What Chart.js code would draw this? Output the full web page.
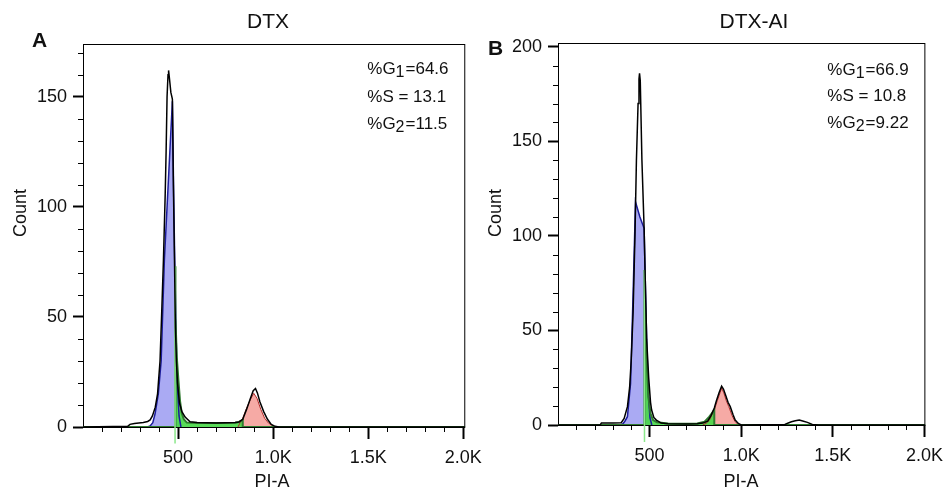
<!DOCTYPE html>
<html>
<head>
<meta charset="utf-8">
<title>DTX / DTX-AI cell cycle</title>
<script src="https://cdn.jsdelivr.net/npm/chart.js@4.4.1/dist/chart.umd.min.js"></script>
<style>
  html, body { margin: 0; padding: 0; background: #fff; overflow: hidden; }
  #wrap { position: relative; width: 951px; height: 493px; }
  canvas { position: absolute; top: 0; }
  #chartA { left: 0; width: 490px; height: 493px; }
  #chartB { left: 475px; width: 476px; height: 493px; }
</style>
</head>
<body>
<div id="wrap">
  <canvas id="chartA" width="490" height="493"></canvas>
  <canvas id="chartB" width="476" height="493"></canvas>
</div>
<script>
// ---- data: [PI-A, count] ----

// panel A (DTX)
const dtxTotal = [[0,0],[235,0.3],[247,1.2],[270,1.6],[317,2],[340,2.5],[353,3.2],[365,5],[380,9],[392,15],[405,30],[415,55],[423,76],[432,105],[437,125],[442,150],[447,160],[450,162],[455,158],[462,152],[470,149],[475,112],[481,76],[486,45],[491,30],[497,20],[507,11],[520,7],[537,4.5],[563,2.4],[600,2],[700,1.8],[800,2],[820,2.3],[840,3.5],[860,8],[880,13],[895,16.5],[907,17.5],[917,15.5],[930,11.5],[950,7],[970,3.5],[990,1.2],[1010,0.3],[1030,0],[2010,0]];
const dtxG1 = [[340,0],[353,0.5],[367,2],[379,6],[396,15],[411,30],[428,76],[449,112],[470,148],[476,110],[483,72],[490,40],[497,18],[505,5],[515,0]];
const dtxS = [[0,0],[484,0],[484,73],[488,50],[493,32],[502,21],[510,12],[519,6.4],[530,3.5],[546,2],[600,1.8],[700,1.8],[800,1.9],[820,2.3],[840,3.2],[840,0],[2010,0]];
const dtxG2 = [[815,0],[825,1.8],[840,4],[860,8.5],[880,12.5],[898,15.3],[915,13],[935,8],[955,4],[975,1.8],[1000,0.5],[1015,0]];
const dtxGate = [[484,-7.5],[484,73]];
const dtxStats = ['64.6', '13.1', '11.5'];

// panel B (DTX-AI)
const aiTotal = [[0,0],[230,0],[237,1.1],[300,1.1],[345,1.2],[361,3.5],[379,9.7],[391,20],[400,35],[410,60],[420,100],[428,140],[437,170],[442,183],[445,186],[449,182],[458,140],[470,104],[475,82],[484,45],[495,25],[505,12],[511,7.9],[523,4],[537,2.6],[563,1],[600,0.6],[700,0.5],[760,0.6],[790,1],[817,2],[835,5],[853,9],[865,13],[879,17],[893,20.5],[903,19],[914,16],[928,12],[940,9.7],[955,5.5],[967,2.6],[984,0.8],[1000,0],[1238,0.3],[1260,1.2],[1274,1.7],[1295,2.2],[1317,2.6],[1340,2],[1361,1.4],[1388,0.3],[1420,0],[2005,0]];
const aiG1 = [[340,0],[353,0.5],[365,2],[379,4.4],[396,22],[410,70],[423,118],[447,110],[470,104],[475,82],[484,45],[493,17],[502,3.7],[512,0]];
const aiS = [[0,0],[472,0],[472,82],[475,63],[484,35],[493,15],[505,6],[519,2.6],[540,1.5],[600,0.8],[700,0.6],[760,0.8],[800,1.8],[826,4.4],[853,7.9],[853,0],[2005,0]];
const aiG2 = [[790,0],[810,1],[826,2.5],[853,7.9],[870,13],[893,19.5],[905,17],[918,13],[932,9.7],[950,5],[965,2],[980,0.5],[990,0]];
const aiGate = [[472,-9],[472,82]];
const aiStats = ['66.9', '10.8', '9.22'];

// axes
const xTicks = [500, 1000, 1500, 2000];
const xTickLabels = ['500', '1.0K', '1.5K', '2.0K'];
const yTicksA = [0, 50, 100, 150];
const yTicksB = [0, 50, 100, 150, 200];

const FONT = '"Liberation Sans", Arial, sans-serif';

function pts(arr) {
  return arr.map(([x, y]) => ({ x, y }));
}

function buildDatasets(total, g1, s, g2, gate) {
  return [
    { label: 'Total', data: pts(total), borderColor: '#000', borderWidth: 1.5, fill: false, order: 0 },
    { label: 'S', data: pts(s), borderColor: '#2f7a2f', borderWidth: 2, backgroundColor: 'rgba(70,215,70,0.9)', fill: 'origin', order: 1 },
    { label: 'Gate', data: pts(gate), borderColor: '#8be88b', borderWidth: 1.5, fill: false, clip: false, order: 0 },
    { label: 'G2', data: pts(g2), borderColor: '#b02a2a', borderWidth: 1, backgroundColor: '#f6aaa5', fill: 'origin', order: 2 },
    { label: 'G1', data: pts(g1), borderColor: '#1c1c9c', borderWidth: 1.5, backgroundColor: '#aaaaf3', fill: 'origin', order: 3 }
  ];
}

// frame, minor ticks and the panel texts
const decor = {
  id: 'decor',
  beforeDatasetsDraw(chart, args, o) {
    const { ctx, chartArea: a, scales: { x, y } } = chart;
    ctx.save();
    ctx.strokeStyle = '#000';
    ctx.lineWidth = 1;
    ctx.strokeRect(a.left + 0.5, a.top + 0.5, a.right - a.left - 1, a.bottom - a.top);
    ctx.beginPath();
    for (let v = 100; v < x.max; v += 100) {
      if (v % 500 === 0) continue;
      const px = Math.round(x.getPixelForValue(v)) + 0.5;
      ctx.moveTo(px, a.bottom);
      ctx.lineTo(px, a.bottom + 5);
    }
    for (let v = 10; v < y.max; v += 10) {
      if (v % 50 === 0) continue;
      const py = Math.round(y.getPixelForValue(v)) + 0.5;
      ctx.moveTo(a.left - 5, py);
      ctx.lineTo(a.left, py);
    }
    ctx.stroke();
    ctx.restore();
  },
  afterDraw(chart, args, o) {
    const ctx = chart.ctx;
    ctx.save();
    ctx.fillStyle = '#111';

    ctx.font = 'bold 21px ' + FONT;
    ctx.textAlign = 'left';
    ctx.textBaseline = 'alphabetic';
    ctx.fillText(o.panel, o.panelX, o.panelY);

    ctx.font = '21px ' + FONT;
    ctx.textAlign = 'center';
    ctx.fillText(o.title, o.titleX, 28);

    ctx.font = '18px ' + FONT;
    ctx.fillText('PI-A', o.xTitleX, 487);
    ctx.save();
    ctx.translate(26, 213);
    ctx.rotate(-Math.PI / 2);
    ctx.fillText('Count', 0, 0);
    ctx.restore();

    // %G1 / %S / %G2 read-out
    const left = chart.chartArea.right - 98;
    const rows = [['%G', '1', '=', 0], ['%S = ', '', '', 1], ['%G', '2', '=', 2]];
    ctx.textAlign = 'left';
    rows.forEach(([head, sub, eq, i], r) => {
      const base = o.statY[r];
      let cx = left;
      ctx.font = '17px ' + FONT;
      ctx.fillText(head, cx, base);
      cx += ctx.measureText(head).width;
      if (sub) {
        ctx.font = '16px ' + FONT;
        ctx.fillText(sub, cx, base + 3);
        cx += ctx.measureText(sub).width + 1;
        ctx.font = '17px ' + FONT;
      }
      ctx.fillText(eq + o.stats[i], cx, base);
    });
    ctx.restore();
  }
};

function buildOptions(p) {
  return {
    responsive: false,
    animation: false,
    events: [],
    layout: { autoPadding: false, padding: { left: 0, top: p.top, right: p.right, bottom: 0 } },
    elements: { point: { radius: 0 }, line: { tension: 0 } },
    plugins: {
      legend: { display: false },
      tooltip: { enabled: false },
      filler: { drawTime: 'beforeDatasetsDraw' },
      decor: p.decor
    },
    scales: {
      x: {
        type: 'linear',
        min: 0,
        max: p.xMax,
        afterBuildTicks: (s) => { s.ticks = xTicks.map(v => ({ value: v })); },
        afterFit: (s) => { s.height = p.xHeight; },
        border: { display: false },
        grid: { drawOnChartArea: false, tickLength: 12, tickWidth: 2, tickColor: '#000' },
        ticks: {
          callback: (v, i) => xTickLabels[i],
          padding: 8,
          maxRotation: 0,
          autoSkip: false,
          color: '#111',
          font: { family: FONT, size: 18 }
        }
      },
      y: {
        min: 0,
        max: p.yMax,
        afterBuildTicks: (s) => { s.ticks = p.yTicks.map(v => ({ value: v })); },
        afterFit: (s) => { s.width = 83; },
        border: { display: false },
        grid: { drawOnChartArea: false, tickLength: 10, tickWidth: 2, tickColor: '#000' },
        ticks: {
          padding: 6,
          color: '#111',
          font: { family: FONT, size: 18 }
        }
      }
    }
  };
}

new Chart(document.getElementById('chartA'), {
  type: 'line',
  data: { datasets: buildDatasets(dtxTotal, dtxG1, dtxS, dtxG2, dtxGate) },
  plugins: [decor],
  options: buildOptions({
    top: 44, right: 24, xHeight: 66, xMax: 2010, yMax: 174, yTicks: yTicksA,
    decor: { panel: 'A', panelX: 32, panelY: 47, title: 'DTX', titleX: 268, xTitleX: 272,
             stats: dtxStats, statY: [74, 101.5, 128.5] }
  })
});

new Chart(document.getElementById('chartB'), {
  type: 'line',
  data: { datasets: buildDatasets(aiTotal, aiG1, aiS, aiG2, aiGate) },
  plugins: [decor],
  options: buildOptions({
    top: 43, right: 11, xHeight: 68, xMax: 2005, yMax: 202, yTicks: yTicksB,
    decor: { panel: 'B', panelX: 13, panelY: 55, title: 'DTX-AI', titleX: 279, xTitleX: 266,
             stats: aiStats, statY: [75, 100.5, 128] }
  })
});
</script>
</body>
</html>
